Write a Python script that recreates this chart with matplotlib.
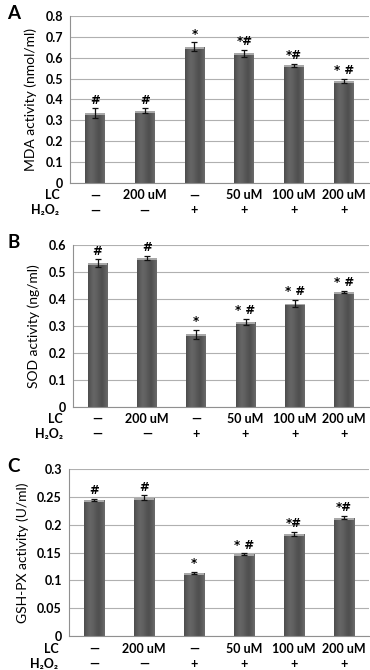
import matplotlib
matplotlib.use("Agg")
import matplotlib.pyplot as plt
import numpy as np

# conditions (LC dose / H2O2)
lc_labels = ["—", "200 uM", "—", "50 uM", "100 uM", "200 uM"]
h2o2_labels = ["—", "—", "+", "+", "+", "+"]

mda = [0.335, 0.347, 0.653, 0.621, 0.565, 0.488]
mda_err = [0.022, 0.011, 0.021, 0.017, 0.007, 0.011]
mda_sig = ["#", "#", "*", "*#", "*#", "* #"]

sod = [0.532, 0.552, 0.269, 0.316, 0.383, 0.425]
sod_err = [0.015, 0.008, 0.017, 0.011, 0.014, 0.004]
sod_sig = ["#", "#", "*", "* #", "* #", "* #"]

gsh = [0.245, 0.249, 0.114, 0.147, 0.183, 0.213]
gsh_err = [0.002, 0.004, 0.002, 0.002, 0.004, 0.003]
gsh_sig = ["#", "#", "*", "* #", "*#", "*#"]

FONT = ["Lato", "DejaVu Sans"]
plt.rcParams["font.family"] = FONT

fig = plt.figure(figsize=(3.7, 6.7), dpi=100)

# shading for the bars: darker edges, lighter middle
grad = np.array([[0.30, 0.36, 0.40, 0.38, 0.34, 0.31, 0.36, 0.42]])
grad = np.interp(np.linspace(0, 7, 60), np.arange(8), grad[0])[None, :]


def panel(rect, letter, vals, errs, sigs, ymax, step, ylabel, fmt):
    ax = fig.add_axes(rect)
    x = np.arange(len(vals))
    bars = ax.bar(x, vals, width=0.4, color="#555555", zorder=2)
    for b in bars:
        x0, w, h = b.get_x(), b.get_width(), b.get_height()
        im = ax.imshow(grad, extent=[x0, x0 + w, 0, h], aspect="auto",
                       cmap="gray", vmin=0, vmax=1, zorder=2.1)
        im.set_clip_path(b)
        # light cap on top
        ax.fill_between([x0, x0 + w], h - ymax * 0.012, h, color="#a8a8a8",
                        zorder=2.2, lw=0)
    ax.errorbar(x, vals, yerr=errs, fmt="none", ecolor="#111111",
                elinewidth=0.9, capsize=2.2, capthick=0.9, zorder=3)
    for xi, v, e, s in zip(x, vals, errs, sigs):
        ax.text(xi, v + e + ymax * 0.01, s, ha="center", va="bottom",
                fontsize=8.5, fontweight="bold", family=["DejaVu Sans"])
    ax.set_xlim(-0.5, len(vals) - 0.5)
    ax.set_ylim(0, ymax)
    ticks = np.arange(0, ymax + step / 2, step)
    ax.set_yticks(ticks)
    ax.set_yticklabels([fmt(t) for t in ticks], fontsize=9, fontweight="bold")
    ax.yaxis.grid(True, color="#b0b0b0", lw=0.8, zorder=0)
    ax.set_axisbelow(True)
    ax.tick_params(axis="y", length=0, pad=5)
    ax.set_xticks([])
    for sp in ["top", "right"]:
        ax.spines[sp].set_visible(False)
    for sp in ["left", "bottom"]:
        ax.spines[sp].set_color("#909090")
        ax.spines[sp].set_linewidth(0.8)
    ax.set_ylabel(ylabel, fontsize=10, labelpad=6)
    trans = ax.get_xaxis_transform()
    for xi, a, b in zip(x, lc_labels, h2o2_labels):
        ax.text(xi, -0.075, a, transform=trans, ha="center", va="center",
                fontsize=9, fontweight="bold")
        ax.text(xi, -0.165, b, transform=trans, ha="center", va="center",
                fontsize=9, fontweight="bold")
    ax.text(-0.035, -0.075, "LC", transform=ax.transAxes, ha="right",
            va="center", fontsize=9, fontweight="bold")
    ax.text(-0.035, -0.165, "H₂O₂", transform=ax.transAxes, ha="right",
            va="center", fontsize=9, fontweight="bold")
    fig.text(0.02, rect[1] + rect[3] + 0.004, letter, fontsize=13.5,
             fontweight="bold", ha="left", va="center")
    return ax


def one(t):
    return "0" if t == 0 else f"{t:.1f}"


def two(t):
    if t == 0:
        return "0"
    s = f"{t:.2f}"
    return s.rstrip("0") if s.endswith("0") else s


panel([0.189, 0.727, 0.808, 0.249], "A", mda, mda_err, mda_sig, 0.8, 0.1,
      "MDA activity (nmol/ml)", one)
panel([0.197, 0.3925, 0.800, 0.242], "B", sod, sod_err, sod_sig, 0.6, 0.1,
      "SOD activity (ng/ml)", one)
panel([0.186, 0.0507, 0.811, 0.249], "C", gsh, gsh_err, gsh_sig, 0.3, 0.05,
      "GSH-PX activity (U/ml)", two)

fig.savefig("out.png", dpi=100, facecolor="white")
